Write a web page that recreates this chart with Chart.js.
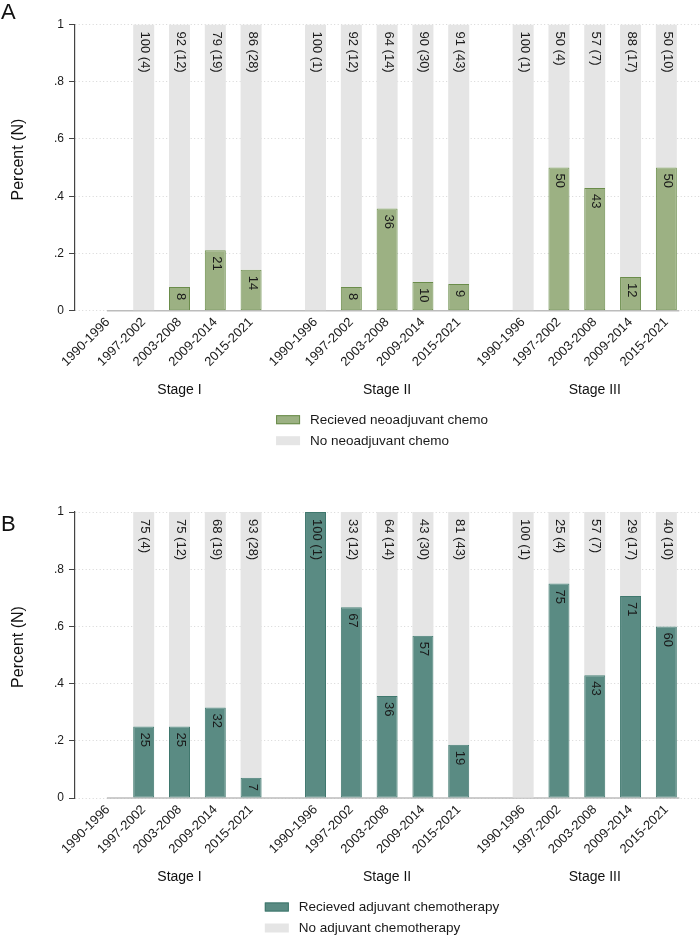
<!DOCTYPE html>
<html><head><meta charset="utf-8">
<script src="https://cdn.jsdelivr.net/npm/chart.js@4"></script>
<style>
html,body{margin:0;padding:0;background:#fff;}
.p{position:absolute;left:0;width:700px;height:470px;}
</style>
</head><body>
<div class="p" style="top:0"><canvas id="ca" width="700" height="470"></canvas></div>
<div class="p" style="top:470px"><canvas id="cb" width="700" height="470"></canvas></div>
<script>
// ---------- data ----------
const stages = ["Stage I", "Stage II", "Stage III"];
const periods = ["1990-1996", "1997-2002", "2003-2008", "2009-2014", "2015-2021"];
// patients per stage and period (0 = no patients)
const nStageI   = [0, 4, 12, 19, 28];
const nStageII  = [1, 12, 14, 30, 43];
const nStageIII = [1, 4, 7, 17, 10];
// Panel A: share who received neoadjuvant chemo (null = no patients)
const neoStageI   = [null, 0, 0.083, 0.211, 0.143];
const neoStageII  = [0, 0.083, 0.357, 0.100, 0.093];
const neoStageIII = [0, 0.500, 0.429, 0.118, 0.500];
// Panel B: share who received adjuvant chemotherapy
const adjStageI   = [null, 0.250, 0.250, 0.316, 0.071];
const adjStageII  = [1.000, 0.667, 0.357, 0.567, 0.186];
const adjStageIII = [0, 0.750, 0.429, 0.706, 0.600];
const yTickValues = [0, 0.2, 0.4, 0.6, 0.8, 1];
const yTickLabels = ["0", ".2", ".4", ".6", ".8", "1"];

// ---------- layout helpers ----------
const FONT = '"Liberation Sans", Arial, Helvetica, sans-serif';
const GROUP_STEP = 5.8;
const nAll = [nStageI, nStageII, nStageIII];

function buildPoints(recvArrays) {
  const pts = [];
  recvArrays.forEach((arr, g) => {
    arr.forEach((v, i) => {
      pts.push({ x: i + g * GROUP_STEP, recv: v, n: nAll[g][i], label: periods[i] });
    });
  });
  return pts;
}

function makePanel(canvasId, cfg) {
  const pts = buildPoints(cfg.recv);
  const xPositions = pts.map(p => p.x);
  const tickLabels = pts.map(p => p.label);

  const overlay = {
    id: 'overlay' + canvasId,
    beforeDatasetsDraw(chart) {
      const ctx = chart.ctx, xs = chart.scales.x, ys = chart.scales.y;
      const y0 = ys.getPixelForValue(0);
      ctx.save();
      ctx.strokeStyle = '#bcbcbc';
      ctx.lineWidth = 1.6;
      ctx.beginPath();
      ctx.moveTo(xs.getPixelForValue(xPositions[0]) - 1, y0);
      ctx.lineTo(xs.getPixelForValue(xPositions[xPositions.length - 1]) + 13, y0);
      ctx.stroke();
      ctx.restore();
    },
    afterDatasetsDraw(chart) {
      const ctx = chart.ctx, ys = chart.scales.y;
      const recvMeta = chart.getDatasetMeta(0);
      ctx.save();
      ctx.font = '13px ' + FONT;
      ctx.fillStyle = '#1a1a1a';
      ctx.textAlign = 'left';
      ctx.textBaseline = 'middle';
      const drawRot = (t, x, y) => {
        ctx.save(); ctx.translate(x, y); ctx.rotate(Math.PI / 2); ctx.fillText(t, 0, 0); ctx.restore();
      };
      pts.forEach((p, k) => {
        if (p.recv === null) return;
        const bar = recvMeta.data[k];
        const x = bar.x + 1;
        const pct = Math.round(p.recv * 100);
        const topPct = pct < 100 ? 100 - pct : pct;
        drawRot(topPct + ' (' + p.n + ')', x, ys.getPixelForValue(1) + 7);
        if (p.recv > 0 && p.recv < 1) drawRot(String(pct), x, bar.y + 6);
      });
      ctx.restore();
    },
    afterDraw(chart) {
      const ctx = chart.ctx, xs = chart.scales.x, ca = chart.chartArea;
      ctx.save();
      // panel letter
      ctx.fillStyle = '#111';
      ctx.font = '22px ' + FONT;
      ctx.textAlign = 'left'; ctx.textBaseline = 'middle';
      ctx.fillText(cfg.letter, 1, cfg.letterY);
      // y title
      ctx.font = '16px ' + FONT;
      ctx.textAlign = 'center';
      ctx.save();
      ctx.translate(19, (ca.top + ca.bottom) / 2 - 8);
      ctx.rotate(-Math.PI / 2);
      ctx.fillText('Percent (N)', 0, 0);
      ctx.restore();
      // stage labels
      ctx.font = '14px ' + FONT;
      stages.forEach((s, g) => {
        ctx.fillText(s, xs.getPixelForValue(2 + g * GROUP_STEP), ca.bottom + 79);
      });
      // legend
      ctx.font = '13.5px ' + FONT;
      const items = [
        { text: cfg.legendRecv, fill: cfg.fill, stroke: cfg.stroke },
        { text: cfg.legendNo, fill: '#e5e5e5', stroke: null }
      ];
      const tw = Math.max(...items.map(it => ctx.measureText(it.text).width));
      const left = 382 - (24 + 10 + tw) / 2;
      ctx.textAlign = 'left';
      items.forEach((it, r) => {
        const cy = ca.bottom + 109 + r * 21;
        ctx.fillStyle = it.fill;
        ctx.fillRect(left, cy - 4.5, 24, 9);
        if (it.stroke) { ctx.strokeStyle = it.stroke; ctx.lineWidth = 1; ctx.strokeRect(left + 0.5, cy - 4, 23, 8); }
        ctx.fillStyle = '#1a1a1a';
        ctx.fillText(it.text, left + 34, cy + 0.5);
      });
      ctx.restore();
    }
  };

  return new Chart(document.getElementById(canvasId), {
    type: 'bar',
    data: {
      datasets: [
        {
          label: cfg.legendRecv,
          data: pts.map(p => ({ x: p.x, y: p.recv })),
          backgroundColor: cfg.fill,
          borderColor: cfg.stroke,
          borderWidth: c => (c.raw && c.raw.y > 0 ? 1 : 0),
          borderSkipped: false,
          maxBarThickness: 21,
          grouped: false
        },
        {
          label: cfg.legendNo,
          data: pts.map(p => ({ x: p.x, y: p.recv === null ? null : 1 - p.recv })),
          backgroundColor: '#e5e5e5',
          borderWidth: 0,
          maxBarThickness: 21,
          grouped: false
        }
      ]
    },
    options: {
      responsive: false,
      animation: false,
      layout: { padding: { top: cfg.top, left: 0, right: 0, bottom: 0 } },
      plugins: { legend: { display: false }, tooltip: { enabled: false } },
      scales: {
        x: {
          type: 'linear',
          offset: false,
          min: -0.919,
          max: 16.54,
          grid: { display: false, drawTicks: false, offset: false },
          border: { display: false },
          afterBuildTicks: s => { s.ticks = xPositions.map(v => ({ value: v })); },
          afterFit: s => { s.height = 470 - cfg.bottom; },
          ticks: {
            autoSkip: false,
            minRotation: 45,
            maxRotation: 45,
            padding: 4,
            color: '#1a1a1a',
            font: { family: FONT, size: 13 },
            callback: (v, i) => tickLabels[i]
          }
        },
        y: {
          stacked: true,
          min: 0,
          max: 1,
          afterBuildTicks: s => { s.ticks = yTickValues.map(v => ({ value: v })); },
          afterFit: s => { s.width = 75; },
          grid: { color: '#d6d6d6', lineWidth: 1, tickColor: '#444', tickLength: 6, tickBorderDash: [] },
          border: { display: true, color: '#444', width: 1.2, dash: [1, 2.5] },
          ticks: {
            padding: 5,
            color: '#1a1a1a',
            font: { family: FONT, size: 12 },
            callback: (v, i) => yTickLabels[i]
          }
        }
      }
    },
    plugins: [overlay]
  });
}

makePanel('ca', {
  recv: [neoStageI, neoStageII, neoStageIII],
  letter: 'A', letterY: 13,
  top: 24.5, bottom: 310.7,
  fill: '#9cb183', stroke: '#6a8c4a',
  legendRecv: 'Recieved neoadjuvant chemo', legendNo: 'No neoadjuvant chemo'
});
makePanel('cb', {
  recv: [adjStageI, adjStageII, adjStageIII],
  letter: 'B', letterY: 55,
  top: 42, bottom: 328,
  fill: '#5a8b83', stroke: '#3f776d',
  legendRecv: 'Recieved adjuvant chemotherapy', legendNo: 'No adjuvant chemotherapy'
});
</script>
</body></html>
